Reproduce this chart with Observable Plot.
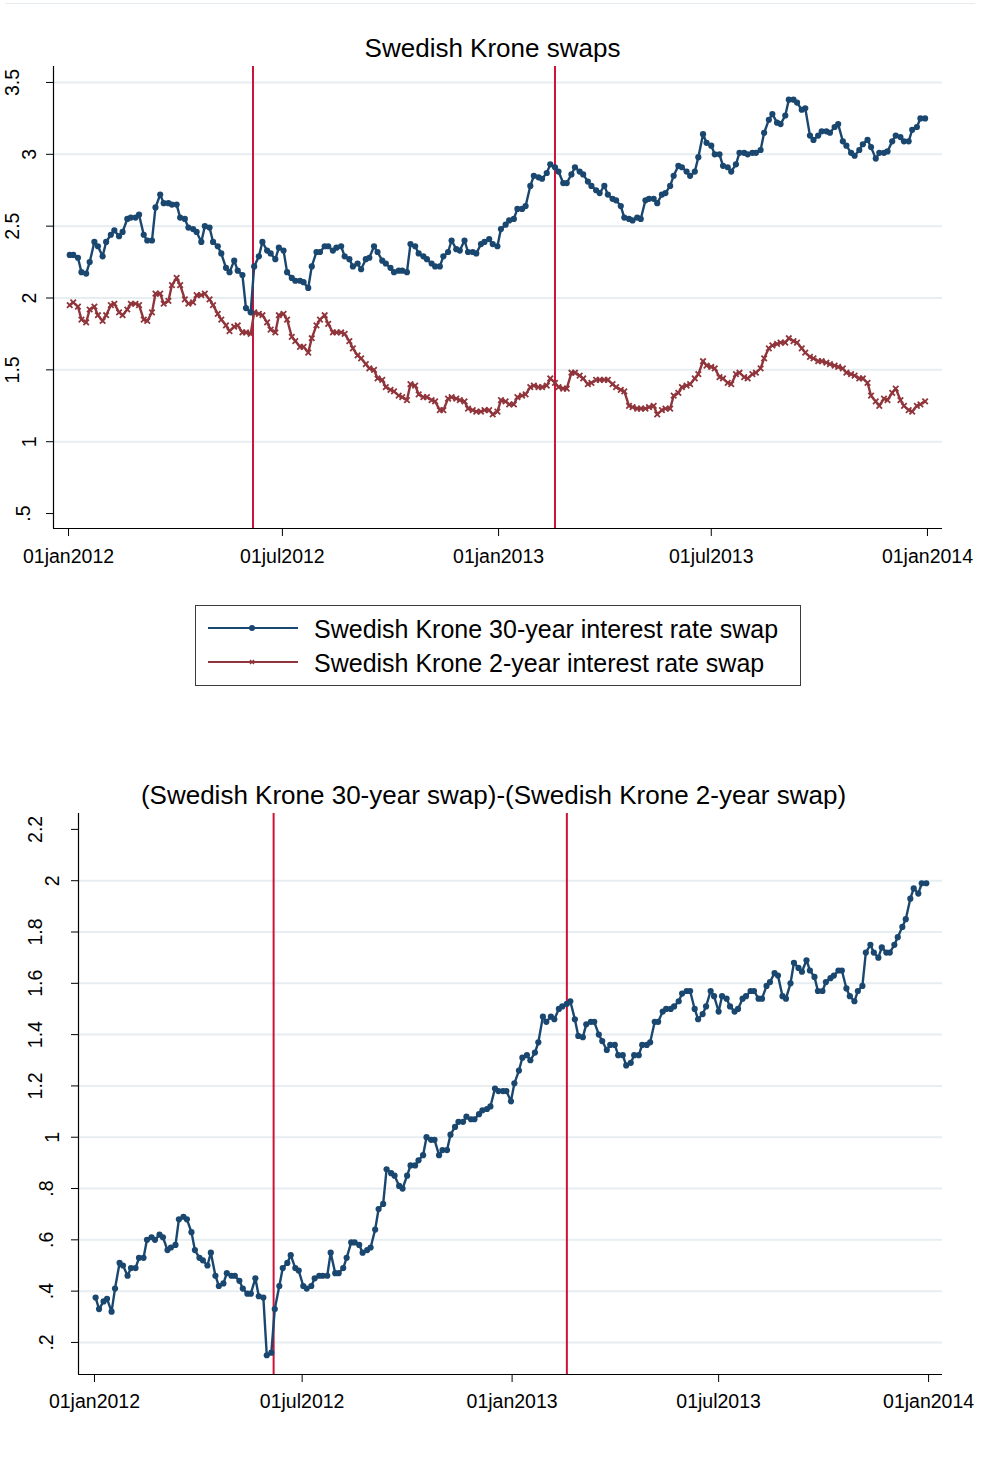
<!DOCTYPE html>
<html>
<head>
<meta charset="utf-8">
<script src="https://cdn.jsdelivr.net/npm/d3@7"></script>
<script src="https://cdn.jsdelivr.net/npm/@observablehq/plot@0.6"></script>
<style>
  body { margin: 0; background: #fff; }
  #page { position: relative; width: 981px; height: 1458px; overflow: hidden; background: #fff;
          font-family: "Liberation Sans", Arial, sans-serif; color: #000; }
  .frame-top { position: absolute; left: 5px; top: 3px; width: 970px; height: 1px; background: #e6ecef; }
  .title { position: absolute; left: 0; text-align: center; font-size: 26px; line-height: 26px; white-space: nowrap; z-index: 2; }
  .chart { position: absolute; left: 0; z-index: 1; }
  #legend { position: absolute; left: 195px; top: 605px; width: 606px; height: 81px; box-sizing: border-box;
            border: 1px solid #3c3c3c; background: #fff; }
  #legend .key { position: absolute; left: 10px; }
  #legend .lab { position: absolute; left: 118px; font-size: 25px; line-height: 25px; white-space: nowrap; }
</style>
</head>
<body>
<div id="page">
  <div class="frame-top"></div>
  <div class="title" style="top:35px;width:985px;">Swedish Krone swaps</div>
  <div class="chart" id="top-chart" style="top:60px;"></div>
  <div id="legend">
    <svg class="key" width="94" height="12" style="top:16px;">
      <line x1="2" x2="92" y1="6" y2="6" stroke="#1a476f" stroke-width="2"></line>
      <circle cx="46" cy="6" r="3" fill="#1a476f"></circle>
    </svg>
    <div class="lab" style="top:11px;">Swedish Krone 30-year interest rate swap</div>
    <svg class="key" width="94" height="12" style="top:50px;">
      <line x1="2" x2="92" y1="6" y2="6" stroke="#90353b" stroke-width="2"></line>
      <path d="M44,4 L48,8 M48,4 L44,8" stroke="#90353b" stroke-width="1.5"></path>
    </svg>
    <div class="lab" style="top:45px;">Swedish Krone 2-year interest rate swap</div>
  </div>
  <div class="title" style="top:782px;width:987px;">(Swedish Krone 30-year swap)-(Swedish Krone 2-year swap)</div>
  <div class="chart" id="bottom-chart" style="top:808px;"></div>
</div>
<script>
// Twice-weekly observations (Mondays and Thursdays), 2 Jan 2012 – 30 Dec 2013
const obsStart = new Date(Date.UTC(2012, 0, 2)), obsEnd = new Date(Date.UTC(2013, 11, 31));
const obsDates = [...d3.utcMonday.range(obsStart, obsEnd), ...d3.utcThursday.range(obsStart, obsEnd)]
  .sort((a, b) => a - b);

// Swedish Krone 30-year interest rate swap (%)
const swap30 = [
  2.30, 2.30, 2.28, 2.18, 2.17, 2.25, 2.39, 2.36, 2.29, 2.39,
  2.44, 2.47, 2.43, 2.46, 2.55, 2.56, 2.56, 2.58, 2.44, 2.40,
  2.40, 2.63, 2.72, 2.66, 2.66, 2.65, 2.65, 2.56, 2.55, 2.49,
  2.48, 2.46, 2.39, 2.50, 2.49, 2.39, 2.36, 2.31, 2.21, 2.18,
  2.26, 2.19, 2.16, 1.93, 1.90, 2.22, 2.29, 2.39, 2.33, 2.31,
  2.27, 2.35, 2.33, 2.18, 2.14, 2.12, 2.12, 2.11, 2.07, 2.22,
  2.32, 2.32, 2.36, 2.36, 2.33, 2.35, 2.36, 2.29, 2.27, 2.22,
  2.24, 2.20, 2.27, 2.28, 2.36, 2.32, 2.26, 2.24, 2.21, 2.18,
  2.19, 2.19, 2.18, 2.375, 2.36, 2.31, 2.29, 2.27, 2.24, 2.22,
  2.22, 2.29, 2.32, 2.40, 2.34, 2.33, 2.40, 2.32, 2.32, 2.31,
  2.375, 2.39, 2.41, 2.375, 2.36, 2.48, 2.51, 2.54, 2.55, 2.62,
  2.62, 2.64, 2.78, 2.85, 2.84, 2.83, 2.87, 2.93, 2.91, 2.88,
  2.80, 2.80, 2.86, 2.91, 2.88, 2.86, 2.81, 2.78, 2.75, 2.73,
  2.78, 2.72, 2.69, 2.68, 2.64, 2.56, 2.55, 2.54, 2.56, 2.55,
  2.68, 2.69, 2.69, 2.66, 2.72, 2.73, 2.78, 2.85, 2.92, 2.91,
  2.88, 2.85, 2.88, 2.98, 3.14, 3.08, 3.06, 3.00, 3.00, 2.92,
  2.91, 2.88, 2.93, 3.01, 3.01, 3.00, 3.01, 3.01, 3.03, 3.15,
  3.24, 3.28, 3.22, 3.21, 3.27, 3.38, 3.38, 3.36, 3.31, 3.32,
  3.13, 3.10, 3.13, 3.16, 3.16, 3.15, 3.19, 3.21, 3.09, 3.06,
  3.01, 2.99, 3.03, 3.07, 3.10, 3.05, 2.97, 3.01, 3.01, 3.02,
  3.09, 3.13, 3.12, 3.09, 3.09, 3.17, 3.19, 3.25,
  3.25
];

// Swedish Krone 2-year interest rate swap (%)
const swap2 = [
  1.95, 1.97, 1.94, 1.85, 1.83, 1.92, 1.94, 1.88, 1.84, 1.88,
  1.95, 1.96, 1.90, 1.88, 1.92, 1.96, 1.96, 1.95, 1.85, 1.84,
  1.90, 2.03, 2.03, 1.96, 1.98, 2.09, 2.14, 2.09, 1.99, 1.96,
  1.97, 2.02, 2.02, 2.03, 1.99, 1.95, 1.89, 1.85, 1.81, 1.77,
  1.80, 1.81, 1.76, 1.76, 1.75, 1.90, 1.89, 1.88, 1.83, 1.78,
  1.76, 1.88, 1.89, 1.85, 1.73, 1.70, 1.66, 1.66, 1.62, 1.72,
  1.81, 1.85, 1.88, 1.82, 1.76, 1.76, 1.76, 1.75, 1.70, 1.65,
  1.60, 1.58, 1.54, 1.51, 1.50, 1.44, 1.43, 1.38, 1.36, 1.35,
  1.32, 1.31, 1.29, 1.40, 1.39, 1.33, 1.31, 1.31, 1.29, 1.28,
  1.22, 1.22, 1.30, 1.31, 1.30, 1.29, 1.28, 1.23, 1.22, 1.21,
  1.21, 1.22, 1.22, 1.19, 1.21, 1.29, 1.28, 1.26, 1.26, 1.31,
  1.32, 1.33, 1.38, 1.39, 1.38, 1.38, 1.39, 1.44, 1.41, 1.38,
  1.37, 1.37, 1.48, 1.48, 1.46, 1.44, 1.40, 1.41, 1.43, 1.43,
  1.43, 1.43, 1.40, 1.38, 1.36, 1.35, 1.25, 1.24, 1.23, 1.23,
  1.23, 1.24, 1.25, 1.19, 1.22, 1.23, 1.23, 1.32, 1.34, 1.38,
  1.39, 1.40, 1.44, 1.47, 1.56, 1.53, 1.52, 1.51, 1.45, 1.44,
  1.41, 1.40, 1.47, 1.48, 1.45, 1.44, 1.47, 1.48, 1.51, 1.58,
  1.65, 1.67, 1.68, 1.69, 1.69, 1.72, 1.70, 1.69, 1.65, 1.62,
  1.59, 1.58, 1.56, 1.56, 1.55, 1.54, 1.53, 1.52, 1.51, 1.48,
  1.47, 1.46, 1.44, 1.44, 1.41, 1.32, 1.28, 1.25, 1.30, 1.29,
  1.34, 1.37, 1.29, 1.25, 1.22, 1.21, 1.25, 1.26,
  1.28
];

// 30-year minus 2-year swap spread (percentage points)
const spread = [
  0.375, 0.33, 0.36, 0.37, 0.32, 0.41, 0.51, 0.50, 0.46, 0.49,
  0.49, 0.53, 0.53, 0.60, 0.61, 0.60, 0.62, 0.61, 0.56, 0.57,
  0.58, 0.68, 0.69, 0.68, 0.63, 0.56, 0.53, 0.52, 0.50, 0.55,
  0.46, 0.42, 0.43, 0.47, 0.46, 0.46, 0.44, 0.41, 0.39, 0.39,
  0.45, 0.38, 0.375, 0.15, 0.16, 0.33, 0.42, 0.49, 0.51, 0.54,
  0.49, 0.48, 0.42, 0.41, 0.42, 0.45, 0.46, 0.46, 0.46, 0.55,
  0.47, 0.47, 0.49, 0.53, 0.59, 0.59, 0.58, 0.55, 0.56, 0.57,
  0.64, 0.72, 0.74, 0.875, 0.86, 0.85, 0.81, 0.80, 0.85, 0.89,
  0.89, 0.91, 0.93, 1.00, 0.99, 0.99, 0.93, 0.95, 0.95, 1.01,
  1.04, 1.06, 1.06, 1.08, 1.07, 1.07, 1.09, 1.105, 1.11, 1.12,
  1.19, 1.18, 1.18, 1.18, 1.14, 1.21, 1.26, 1.31, 1.32, 1.30,
  1.33, 1.37, 1.47, 1.45, 1.47, 1.46, 1.50, 1.51, 1.52, 1.53,
  1.46, 1.395, 1.39, 1.44, 1.45, 1.45, 1.40, 1.375, 1.34, 1.36,
  1.36, 1.32, 1.32, 1.28, 1.29, 1.32, 1.32, 1.36, 1.36, 1.37,
  1.45, 1.45, 1.49, 1.50, 1.50, 1.51, 1.53, 1.56, 1.57, 1.57,
  1.50, 1.46, 1.48, 1.51, 1.57, 1.55, 1.49, 1.55, 1.54, 1.51,
  1.49, 1.50, 1.54, 1.55, 1.57, 1.57, 1.54, 1.54, 1.59, 1.605,
  1.64, 1.63, 1.55, 1.54, 1.60, 1.68, 1.66, 1.645, 1.69, 1.65,
  1.625, 1.57, 1.57, 1.605, 1.62, 1.63, 1.65, 1.65, 1.58, 1.55,
  1.53, 1.57, 1.59, 1.72, 1.75, 1.72, 1.70, 1.74, 1.72, 1.72,
  1.75, 1.78, 1.82, 1.85, 1.93, 1.97, 1.95, 1.99,
  1.99
];

// Reference dates marked with vertical lines
const eventDates = ["2012-06-06", "2013-02-18"].map(s => new Date(s + "T00:00:00Z"));

// Axis ticks
const dateTicks = ["2012-01-01", "2012-07-01", "2013-01-01", "2013-07-01", "2014-01-01"].map(s => new Date(s + "T00:00:00Z"));
const rateTicks = [0.5, 1, 1.5, 2, 2.5, 3, 3.5];
const rateGrid = [1, 1.5, 2, 2.5, 3, 3.5];
const spreadTicks = [0.2, 0.4, 0.6, 0.8, 1, 1.2, 1.4, 1.6, 1.8, 2, 2.2];
const spreadGrid = [0.2, 0.4, 0.6, 0.8, 1, 1.2, 1.4, 1.6, 1.8, 2];

const rows = obsDates.map((date, i) => ({date, s30: swap30[i], s2: swap2[i], spread: spread[i]}));

const BLUE = "#1a476f", RED = "#90353b", EVENT = "#cf1238", GRID = "#e6eef1";
const FS = 19.5;
const fmtDate = d => d3.utcFormat("%d%b%Y")(d).toLowerCase();
const fmtNum = v => String(+v.toFixed(2)).replace(/^0\./, ".");
// approximate horizontal advance of a numeric label (digits and a point)
const labelWidth = s => [...s].reduce((w, c) => w + (c === "." ? 0.278 : 0.556), 0) * FS;

// vertical y tick labels, reading bottom-to-top, pushed left by their own length
const yLabels = (ticks, gap) => ticks.map(t => Plot.text([t], {
  y: d => d, text: d => fmtNum(d), frameAnchor: "left",
  dx: -(gap + labelWidth(fmtNum(t))), rotate: -90,
  textAnchor: "middle", lineAnchor: "top", fontSize: FS, fill: "#000"
}));

const common = (xDomain, yDomain) => ({
  width: 981,
  style: {fontFamily: "'Liberation Sans', Arial, sans-serif", fontSize: FS + "px", background: "transparent", color: "#000"},
  x: {type: "utc", domain: xDomain, label: null},
  y: {domain: yDomain, label: null}
});

const topStart = new Date("2011-12-19T04:48:00Z");
const topChart = Plot.plot({
  ...common([topStart, new Date("2014-01-13T19:12:00Z")], [0.396, 3.611]),
  height: 520, marginLeft: 53, marginRight: 39, marginTop: 6, marginBottom: 52,
  marks: [
    Plot.gridY(rateGrid, {stroke: GRID, strokeOpacity: 1, strokeWidth: 2}),
    Plot.ruleX(eventDates, {stroke: EVENT, strokeWidth: 2}),
    Plot.line(rows, {x: "date", y: "s2", stroke: RED, strokeWidth: 2.4}),
    Plot.dot(rows, {x: "date", y: "s2", symbol: "times", r: 2.6, stroke: RED, strokeWidth: 1.8}),
    Plot.line(rows, {x: "date", y: "s30", stroke: BLUE, strokeWidth: 2.4}),
    Plot.dot(rows, {x: "date", y: "s30", r: 3.1, fill: BLUE}),
    Plot.axisX(dateTicks, {tickSize: 8, tickPadding: 13, tickFormat: fmtDate, fontSize: FS, stroke: "#000"}),
    Plot.axisY(rateTicks, {tickSize: 7, tickFormat: () => "", stroke: "#000"}),
    ...yLabels(rateTicks, 21),
    Plot.ruleX([topStart], {stroke: "#000", strokeWidth: 1.2}),
    Plot.ruleY([0.396], {stroke: "#000", strokeWidth: 1.2})
  ]
});
document.getElementById("top-chart").append(topChart);

const bottomStart = new Date("2011-12-18T00:00:00Z");
const bottomChart = Plot.plot({
  ...common([bottomStart, new Date("2014-01-13T04:48:00Z")], [0.075, 2.262]),
  height: 632, marginLeft: 78, marginRight: 39, marginTop: 5, marginBottom: 66,
  marks: [
    Plot.gridY(spreadGrid, {stroke: GRID, strokeOpacity: 1, strokeWidth: 2}),
    Plot.ruleX(eventDates, {stroke: EVENT, strokeWidth: 2}),
    Plot.line(rows, {x: "date", y: "spread", stroke: BLUE, strokeWidth: 2.4}),
    Plot.dot(rows, {x: "date", y: "spread", r: 3.1, fill: BLUE}),
    Plot.axisX(dateTicks, {tickSize: 8, tickPadding: 12, tickFormat: fmtDate, fontSize: FS, stroke: "#000"}),
    Plot.axisY(spreadTicks, {tickSize: 7, tickFormat: () => "", stroke: "#000"}),
    ...yLabels(spreadTicks, 23),
    Plot.ruleX([bottomStart], {stroke: "#000", strokeWidth: 1.2}),
    Plot.ruleY([0.075], {stroke: "#000", strokeWidth: 1.2})
  ]
});
document.getElementById("bottom-chart").append(bottomChart);
</script>
</body>
</html>
